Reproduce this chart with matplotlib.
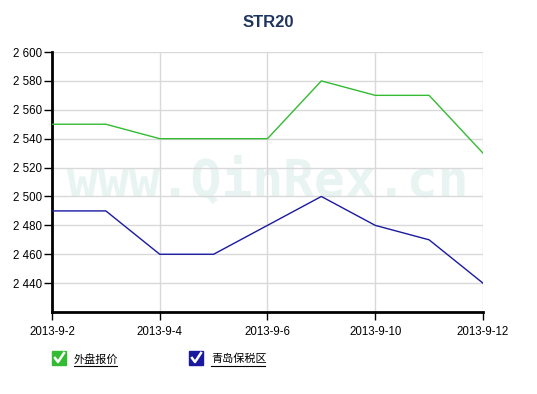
import matplotlib.pyplot as plt
from matplotlib.patches import Rectangle
from matplotlib.lines import Line2D

plt.rcParams['font.family'] = ['Liberation Sans', 'DejaVu Sans']

# Data
dates = ['2013-9-2', '2013-9-3', '2013-9-4', '2013-9-5', '2013-9-6',
         '2013-9-9', '2013-9-10', '2013-9-11', '2013-9-12']
waipan = [2550, 2550, 2540, 2540, 2540, 2580, 2570, 2570, 2530]
qingdao = [2490, 2490, 2460, 2460, 2480, 2500, 2480, 2470, 2440]
series_names = ['外盘报价', '青岛保税区']
series_colors = ['#33bb33', '#1a1aa0']
yticks = [2440, 2460, 2480, 2500, 2520, 2540, 2560, 2580, 2600]

fig = plt.figure(figsize=(5.37, 3.94), dpi=100)
ax = fig.add_axes([0.0968, 0.208, 0.8026, 0.66])

x = list(range(len(dates)))
ax.plot(x, waipan, color=series_colors[0], lw=1, zorder=3)
ax.plot(x, qingdao, color=series_colors[1], lw=1, zorder=3)

ax.set_xlim(0, len(dates) - 1)
ax.set_ylim(2420, 2600)
ax.set_yticks(yticks)
ax.set_yticklabels([f"{v // 1000} {v % 1000:03d}" for v in yticks])
xt = x[::2]
ax.set_xticks(xt)
ax.set_xticklabels([dates[i] for i in xt])

ax.grid(True, color='#d9d9d9', lw=1, zorder=0)
for s in ['top', 'right']:
    ax.spines[s].set_visible(False)
for s in ['left', 'bottom']:
    ax.spines[s].set_linewidth(2)
    ax.spines[s].set_color('black')
ax.tick_params(axis='both', labelsize=8.3, length=6, width=1, direction='out')
ax.tick_params(axis='y', pad=1)
ax.tick_params(axis='x', pad=4)

# watermark
ax.text(0.5, 0.5, 'www.QinRex.cn', transform=ax.transAxes, ha='center', va='center',
        fontsize=37, fontweight='bold', family='DejaVu Sans Mono', color='#e8f4f2', zorder=1)

fig.text(0.5, 0.944, 'STR20', ha='center', va='center', fontsize=12,
         fontweight='bold', color='#1f3560')

# legend with check boxes
W, H = 537.0, 394.0
legend_x = [52, 189]
for lx, name, col in zip(legend_x, series_names, series_colors):
    y0 = 351
    fig.patches.append(Rectangle((lx / W, 1 - (y0 + 14) / H), 14 / W, 14 / H,
                                 transform=fig.transFigure, facecolor=col, edgecolor=col))
    fig.lines.append(Line2D([(lx + 3) / W, (lx + 6) / W, (lx + 12) / W],
                            [1 - (y0 + 7) / H, 1 - (y0 + 11) / H, 1 - (y0 + 2) / H],
                            transform=fig.transFigure, color='white', lw=1.8))
    t = fig.text((lx + 22) / W, 1 - (y0 + 8) / H, name, ha='left', va='center', fontsize=8,
                 family=['Noto Sans CJK SC', 'DejaVu Sans'])
    n = len(name)
    fig.lines.append(Line2D([(lx + 22) / W, (lx + 22 + n * 10.7) / W],
                            [1 - (y0 + 15) / H, 1 - (y0 + 15) / H],
                            transform=fig.transFigure, color='black', lw=0.8))

fig.savefig('out.png', dpi=100)
